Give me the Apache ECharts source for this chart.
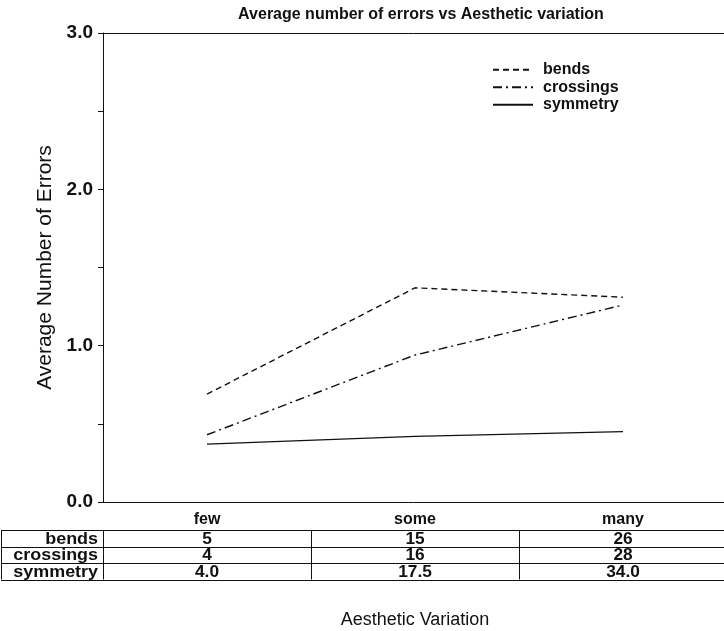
<!DOCTYPE html>
<html>
<head>
<meta charset="utf-8">
<script src="https://cdn.jsdelivr.net/npm/echarts@6/dist/echarts.min.js"></script>
<style>
  html, body { margin: 0; padding: 0; background: #fff; }
  #chart { width: 724px; height: 631px; }
</style>
</head>
<body>
<div id="chart"></div>
<script>
// chart values
const categories = ['few', 'some', 'many']
const bends = [0.69, 1.37, 1.31]
const crossings = [0.43, 0.94, 1.26]
const symmetry = [0.37, 0.42, 0.45]

// table under the axis
const tableRows = ['bends', 'crossings', 'symmetry']
const tableBends = ['5', '15', '26']
const tableCrossings = ['4', '16', '28']
const tableSymmetry = ['4.0', '17.5', '34.0']
const tableValues = [tableBends, tableCrossings, tableSymmetry]

const font = 'Liberation Sans, Arial, sans-serif'
const ink = '#111'

const chart = echarts.init(document.getElementById('chart'))

const lineSeries = (name, data, type) => ({
  name: name,
  type: 'line',
  data: data,
  symbol: 'none',
  xAxisIndex: 0,
  lineStyle: { color: ink, width: 1.4, type: type },
  itemStyle: { color: ink },
  emphasis: { disabled: true }
})

chart.setOption({
  animation: false,
  backgroundColor: '#fff',
  title: {
    text: 'Average number of errors vs Aesthetic variation',
    left: 416,
    top: 2,
    textAlign: 'center',
    textStyle: { fontFamily: font, fontSize: 16, fontWeight: 'bold', color: ink }
  },
  legend: {
    orient: 'vertical',
    left: 492,
    top: 61,
    padding: 0,
    itemWidth: 40,
    itemHeight: 14,
    itemGap: 0,
    itemStyle: { opacity: 0 },
    data: ['bends', 'crossings', 'symmetry'],
    textStyle: { fontFamily: font, fontSize: 16, fontWeight: 'bold', lineHeight: 17.5, color: ink, padding: [0, 0, 0, 5] }
  },
  grid: { left: 103, top: 33, width: 624, height: 469, containLabel: false, outerBoundsMode: 'none' },
  xAxis: [{
    type: 'category',
    data: categories,
    position: 'bottom',
    boundaryGap: true,
    axisLine: { lineStyle: { color: ink, width: 1 } },
    axisTick: { alignWithLabel: true, inside: true, length: 5, lineStyle: { color: ink } },
    axisLabel: { fontFamily: font, fontSize: 16, fontWeight: 'bold', color: ink, margin: 10 },
    name: 'Aesthetic Variation',
    nameLocation: 'middle',
    nameGap: 109,
    nameTextStyle: { fontFamily: font, fontSize: 18, color: ink }
  }, {
    type: 'category',
    data: categories,
    position: 'top',
    boundaryGap: true,
    axisLine: { lineStyle: { color: ink, width: 1 } },
    axisTick: { alignWithLabel: true, inside: true, length: 5, lineStyle: { color: ink } },
    axisLabel: { show: false }
  }],
  yAxis: {
    type: 'value',
    min: 0,
    max: 3,
    interval: 0.5,
    axisLine: { show: true, lineStyle: { color: ink, width: 1 } },
    axisTick: { show: true, length: 5, lineStyle: { color: ink } },
    splitLine: { show: false },
    axisLabel: {
      fontFamily: font, fontSize: 19, fontWeight: 'bold', color: ink, margin: 10,
      formatter: v => (v % 1 === 0 ? v.toFixed(1) : '')
    },
    name: 'Average Number of Errors',
    nameLocation: 'middle',
    nameGap: 47,
    nameTextStyle: { fontFamily: font, fontSize: 21, color: ink }
  },
  series: [
    lineSeries('bends', bends, [6, 4]),
    lineSeries('crossings', crossings, [9, 4, 2, 4]),
    lineSeries('symmetry', symmetry, 'solid')
  ]
})

// table: columns follow the category bands of the x axis
const centers = categories.map(c => chart.convertToPixel({ xAxisIndex: 0 }, c))
const band = centers[1] - centers[0]
const tableTop = 530
const rowH = 16.5
const tableLeft = 1
const labelRight = 103
const tableRight = 730

const elements = []
const hline = y => ({
  type: 'line', silent: true,
  shape: { x1: tableLeft, y1: y, x2: tableRight, y2: y },
  style: { stroke: ink, lineWidth: 1 }
})
const vline = x => ({
  type: 'line', silent: true,
  shape: { x1: x, y1: tableTop, x2: x, y2: tableTop + rowH * tableRows.length },
  style: { stroke: ink, lineWidth: 1 }
})
for (let r = 0; r <= tableRows.length; r++) elements.push(hline(Math.round(tableTop + r * rowH) + 0.5))
elements.push(vline(tableLeft + 0.5))
elements.push(vline(labelRight + 0.5))
for (let i = 1; i < categories.length; i++) elements.push(vline(Math.round(centers[i] - band / 2) + 0.5))

tableRows.forEach((name, r) => {
  const cy = tableTop + r * rowH + rowH / 2 + 1
  elements.push({
    type: 'text', silent: true, x: labelRight - 5, y: cy, scaleX: 1.12,
    style: { text: name, fill: ink, font: 'bold 16px ' + font, align: 'right', verticalAlign: 'middle' }
  })
  tableValues[r].forEach((val, i) => {
    elements.push({
      type: 'text', silent: true, x: centers[i], y: cy, scaleX: 1.08,
      style: { text: val, fill: ink, font: 'bold 16px ' + font, align: 'center', verticalAlign: 'middle' }
    })
  })
})

chart.setOption({ graphic: { elements: elements } })
</script>
</body>
</html>
